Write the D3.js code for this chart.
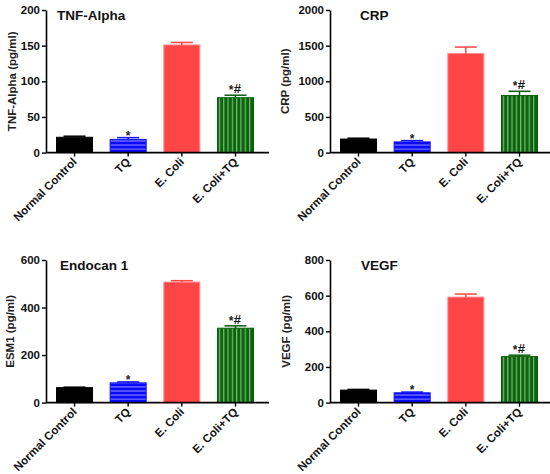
<!DOCTYPE html>
<html>
<head>
<meta charset="utf-8">
<script src="https://cdn.jsdelivr.net/npm/d3@7/dist/d3.min.js"></script>
<style>
  body { margin: 0; background: #fff; }
  svg { display: block; font-family: "Liberation Sans", Arial, sans-serif; }
</style>
</head>
<body>
<div id="chart-area"></div>
<script>
// groups on the x axis (same for all four panels)
var groups = ["Normal Control", "TQ", "E. Coli", "E. Coli+TQ"];

// means and SEM
var tnfMean = [21.5, 18.5, 151, 77];
var tnfErr  = [1.5, 2.5, 3.5, 3.5];
var crpMean = [190, 150, 1390, 800];
var crpErr  = [12, 18, 90, 60];
var esmMean = [63, 83, 507, 313];
var esmErr  = [2, 4, 6, 10];
var vegfMean = [70, 55, 592, 258];
var vegfErr  = [4, 4, 17, 8];

var sigMarks = ["", "*", "", "*#"];

var titles  = ["TNF-Alpha", "CRP", "Endocan 1", "VEGF"];
var yLabels = ["TNF-Alpha (pg/ml)", "CRP (pg/ml)", "ESM1 (pg/ml)", "VEGF (pg/ml)"];
var yMax    = [200, 2000, 600, 800];
var yStep   = [50, 500, 200, 200];

var means = [tnfMean, crpMean, esmMean, vegfMean];
var errs  = [tnfErr, crpErr, esmErr, vegfErr];

// panel placement
var panels = [
	{ x: 46,  y: 0,   title: 11, ylab: -34 },
	{ x: 330, y: 0,   title: 30, ylab: -45 },
	{ x: 46,  y: 250, title: 14, ylab: -36 },
	{ x: 330, y: 250, title: 31, ylab: -44 }
];

var fills   = ["#000000", "url(#hatchBlue)", "#ff4545", "url(#hatchGreen)"];
var strokes = ["#000000", "#1010f0", "#ff8c8c", "#0b5e0b"];
var errCol  = ["#000000", "#1010f0", "#ff4545", "#0b5e0b"];

var svg = d3.select("#chart-area")
	.append("svg")
		.attr("width", 550)
		.attr("height", 474);

var defs = svg.append("defs");

var pb = defs.append("pattern")
	.attr("id", "hatchBlue")
	.attr("patternUnits", "userSpaceOnUse")
	.attr("width", 8).attr("height", 4.1);
pb.append("rect").attr("width", 8).attr("height", 4.1).attr("fill", "#0a0aff");
pb.append("line").attr("x1", 0).attr("x2", 8).attr("y1", 1.6).attr("y2", 1.6)
	.attr("stroke", "#8d8dff").attr("stroke-width", 1);

var pg = defs.append("pattern")
	.attr("id", "hatchGreen")
	.attr("patternUnits", "userSpaceOnUse")
	.attr("width", 4.3).attr("height", 8);
pg.append("rect").attr("width", 4.3).attr("height", 8).attr("fill", "#0b650b");
pg.append("line").attr("x1", 1.5).attr("x2", 1.5).attr("y1", 0).attr("y2", 8)
	.attr("stroke", "#8fc48f").attr("stroke-width", 1);

var y0 = 152.6, y1 = 10;

panels.forEach(function(p, k) {
	var g = svg.append("g")
		.attr("transform", "translate(" + p.x + "," + p.y + ")");

	var x = d3.scaleBand()
		.domain(groups)
		.range([10, 208])
		.paddingInner(0.31)
		.paddingOuter(0);

	var y = d3.scaleLinear()
		.domain([0, yMax[k]])
		.range([y0, y1]);

	var data = groups.map(function(gr, i) {
		return { name: gr, mean: means[k][i], err: errs[k][i], sig: sigMarks[i], i: i };
	});

	// bars
	g.selectAll("rect.bar")
		.data(data)
		.enter()
		.append("rect")
			.attr("class", "bar")
			.attr("x", function(d){ return x(d.name) + 0.5; })
			.attr("y", function(d){ return y(d.mean); })
			.attr("width", x.bandwidth() - 1)
			.attr("height", function(d){ return y0 - y(d.mean); })
			.attr("fill", function(d){ return fills[d.i]; })
			.attr("stroke", function(d){ return strokes[d.i]; })
			.attr("stroke-width", 1);

	// error bars (upper only)
	var eb = g.selectAll("g.err")
		.data(data)
		.enter()
		.append("g")
			.attr("class", "err");
	eb.append("line")
		.attr("x1", function(d){ return x(d.name) + x.bandwidth() / 2; })
		.attr("x2", function(d){ return x(d.name) + x.bandwidth() / 2; })
		.attr("y1", function(d){ return y(d.mean); })
		.attr("y2", function(d){ return y(d.mean + d.err); })
		.attr("stroke", function(d){ return errCol[d.i]; })
		.attr("stroke-width", 1.5);
	eb.append("line")
		.attr("x1", function(d){ return x(d.name) + x.bandwidth() / 2 - 11; })
		.attr("x2", function(d){ return x(d.name) + x.bandwidth() / 2 + 11; })
		.attr("y1", function(d){ return y(d.mean + d.err); })
		.attr("y2", function(d){ return y(d.mean + d.err); })
		.attr("stroke", function(d){ return errCol[d.i]; })
		.attr("stroke-width", 1.5);

	// significance marks
	data.forEach(function(d) {
		if (!d.sig) return;
		var cx = x(d.name) + x.bandwidth() / 2;
		var ty = y(d.mean + d.err) - 3;
		if (d.sig == "*") {
			g.append("text")
				.attr("x", cx).attr("y", ty + 5)
				.attr("text-anchor", "middle")
				.attr("font-size", "12px").attr("font-weight", "bold")
				.attr("fill", "#222")
				.text("*");
		} else {
			g.append("text")
				.attr("x", cx - 4.5).attr("y", ty + 2)
				.attr("text-anchor", "middle")
				.attr("font-size", "12px").attr("font-weight", "bold")
				.attr("fill", "#222")
				.text("*");
			g.append("text")
				.attr("x", cx + 2).attr("y", ty + 1)
				.attr("text-anchor", "middle")
				.attr("font-size", "13px").attr("font-weight", "bold")
				.attr("fill", "#111")
				.text("#");
		}
	});

	// y axis
	var yAxisCall = d3.axisLeft(y)
		.tickValues(d3.range(0, yMax[k] + 1, yStep[k]))
		.tickFormat(d3.format("d"))
		.tickSize(4)
		.tickPadding(2)
		.tickSizeOuter(0);
	var ya = g.append("g")
		.attr("class", "y axis")
		.call(yAxisCall);
	ya.select(".domain").attr("stroke-width", 1.6);
	ya.selectAll(".tick line").attr("stroke-width", 1.4);
	ya.selectAll(".tick text")
		.attr("font-size", "11.5px")
		.attr("font-weight", "bold")
		.attr("font-family", "Liberation Sans, Arial, sans-serif")
		.attr("fill", "#111");

	// x axis
	var xAxisCall = d3.axisBottom(x)
		.tickSize(4)
		.tickSizeOuter(0)
		.tickFormat("");
	var xa = g.append("g")
		.attr("class", "x axis")
		.attr("transform", "translate(0," + y0 + ")")
		.call(xAxisCall);
	xa.select(".domain").attr("d", "M0,0H223").attr("stroke-width", 1.6);
	xa.selectAll(".tick line").attr("stroke-width", 1.4);

	g.selectAll("text.xlab")
		.data(groups)
		.enter()
		.append("text")
			.attr("class", "xlab")
			.attr("transform", function(d){
				return "translate(" + (x(d) + x.bandwidth() / 2 + 3) + "," + (y0 + 10) + ") rotate(-45)";
			})
			.attr("text-anchor", "end")
			.attr("font-size", "11.5px")
			.attr("font-weight", "bold")
			.attr("fill", "#111")
			.text(function(d){ return d; });

	// panel title
	g.append("text")
		.attr("x", p.title)
		.attr("y", 20)
		.attr("font-size", "13.5px")
		.attr("font-weight", "bold")
		.attr("fill", "#111")
		.text(titles[k]);

	// y axis title
	g.append("text")
		.attr("transform", "translate(" + p.ylab + "," + ((y0 + y1) / 2) + ") rotate(-90)")
		.attr("text-anchor", "middle")
		.attr("dy", "0.35em")
		.attr("font-size", "11.5px")
		.attr("font-weight", "bold")
		.attr("fill", "#222")
		.text(yLabels[k]);
});
</script>
</body>
</html>
